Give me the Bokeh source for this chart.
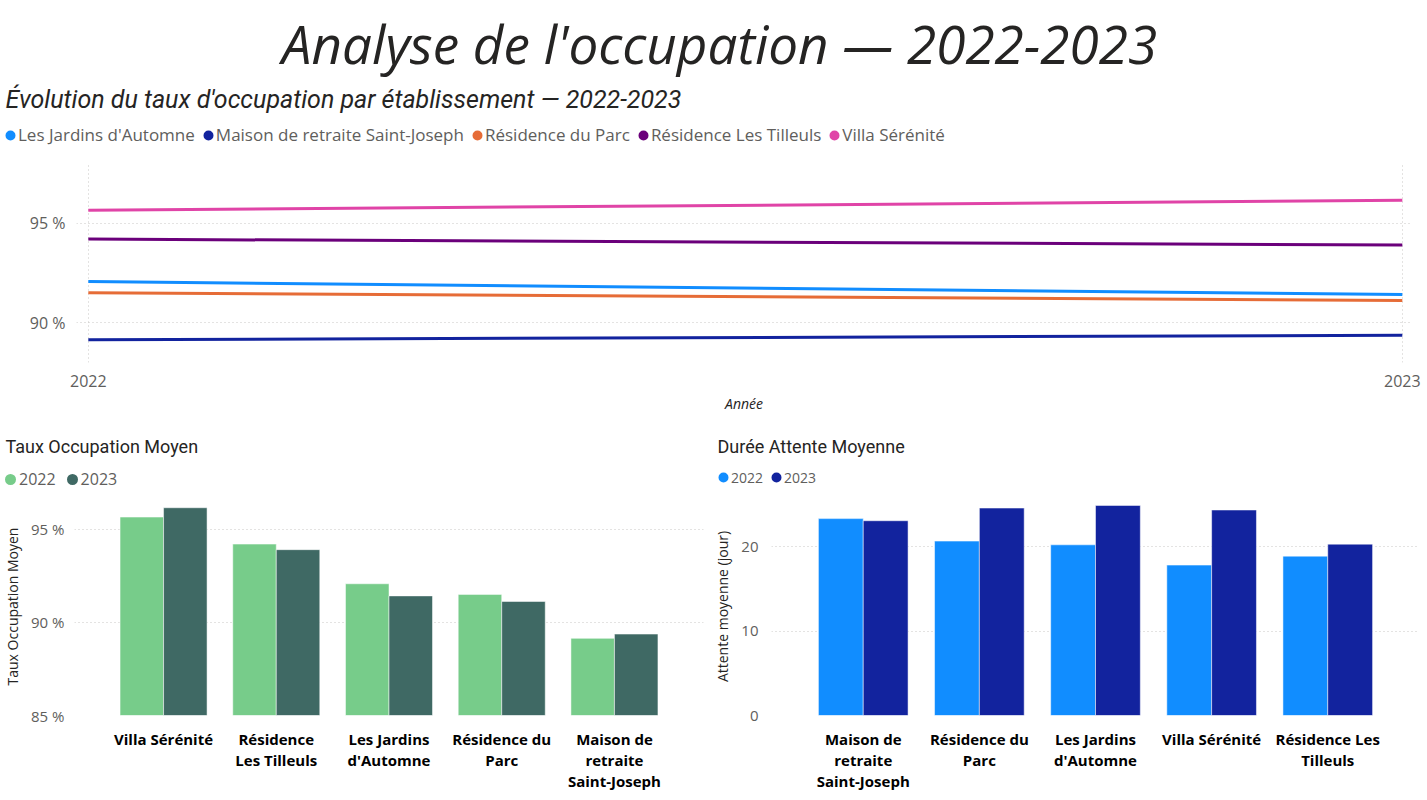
from bokeh.plotting import figure
from bokeh.models import (Range1d, Legend, LegendItem, Label, FixedTicker,
                          ColumnDataSource, PrintfTickFormatter)
from bokeh.layouts import column, row
from bokeh.transform import dodge
from bokeh.embed import file_html
from bokeh.resources import INLINE

# ---------------- data ----------------
establishments = ["Les Jardins d'Automne", "Maison de retraite Saint-Joseph",
                  "Résidence du Parc", "Résidence Les Tilleuls", "Villa Sérénité"]
est_colors = ["#118DFF", "#12239E", "#E66C37", "#6B007B", "#E044A7"]
years = [2022, 2023]
occ_2022 = [92.07, 89.14, 91.50, 94.20, 95.65]
occ_2023 = [91.42, 89.37, 91.12, 93.90, 96.15]
wait_2022 = [20.20, 23.30, 20.64, 18.86, 17.80]
wait_2023 = [24.86, 23.05, 24.55, 20.28, 24.32]

occ_order = ["Villa Sérénité", "Résidence Les Tilleuls", "Les Jardins d'Automne",
             "Résidence du Parc", "Maison de retraite Saint-Joseph"]
occ_tick_labels = ["Villa Sérénité", "Résidence\nLes Tilleuls", "Les Jardins\nd'Automne",
                   "Résidence du\nParc", "Maison de\nretraite\nSaint-Joseph"]
wait_order = ["Maison de retraite Saint-Joseph", "Résidence du Parc", "Les Jardins d'Automne",
              "Villa Sérénité", "Résidence Les Tilleuls"]
wait_tick_labels = ["Maison de\nretraite\nSaint-Joseph", "Résidence du\nParc", "Les Jardins\nd'Automne",
                    "Villa Sérénité", "Résidence Les\nTilleuls"]
occ_ticks = [85, 90, 95]
wait_ticks = [0, 10, 20]
year_labels = ["2022", "2023"]
occ_year_colors = ["#77CC8A", "#3F6964"]
wait_year_colors = ["#118DFF", "#12239E"]

GRID = "#C8C6C4"
TXT = "#252423"
SUB = "#605E5C"
NAN = float("nan")


def no_align(p):
    if "frame_align" in p.properties():
        p.frame_align = False


def style_axes(p):
    for ax in p.axis:
        ax.axis_line_color = None
        ax.major_tick_line_color = None
        ax.minor_tick_line_color = None
        ax.major_tick_out = 0
        ax.major_tick_in = 0
        ax.minor_tick_out = 0
        ax.minor_tick_in = 0
    p.outline_line_color = None
    p.background_fill_color = "white"
    p.border_fill_color = "white"
    no_align(p)


def header(width, height):
    h = figure(width=width, height=height, x_range=Range1d(0, width), y_range=Range1d(0, height),
               output_backend="svg", toolbar_location=None, title=None,
               x_axis_location=None, y_axis_location=None,
               min_border_left=0, min_border_right=0, min_border_top=0, min_border_bottom=0)
    h.grid.visible = False
    h.outline_line_color = None
    h.background_fill_color = "white"
    h.border_fill_color = "white"
    no_align(h)
    return h


def add_label(p, text, x, y, size, font="Open Sans", style="normal", color=TXT, align="left"):
    p.add_layout(Label(x=x, y=y, x_units="screen", y_units="screen", text=text,
                       text_font=font, text_font_style=style, text_font_size=size,
                       text_color=color, text_align=align, text_baseline="middle"))


def legend_items(h, labels, colors, glyph, dot):
    its = []
    for lab, c in zip(labels, colors):
        # legend marker: 0.4*glyph box + outline width gives the dot diameter
        d = h.scatter(x=[NAN], y=[NAN], marker="circle", size=10, fill_color=c,
                      line_color=c, line_width=dot - 0.4 * glyph)
        its.append(LegendItem(label=lab, renderers=[d]))
    return its


def make_legend(items, font_size, glyph, spacing, x, center, H):
    return Legend(items=items, orientation="horizontal", location=(x, H - (center + 10)),
                  label_text_font="Open Sans", label_text_font_size=font_size, label_text_color=SUB,
                  glyph_width=glyph, glyph_height=glyph, label_standoff=1, spacing=spacing,
                  padding=0, margin=0, border_line_color=None, background_fill_alpha=0,
                  label_height=20)


# ---------------- top header ----------------
H1 = 163
h1 = header(1427, H1)
add_label(h1, "Analyse de l'occupation — 2022-2023", 719, H1 - 43, "53px", style="italic", align="center")
add_label(h1, "Évolution du taux d'occupation par établissement — 2022-2023", 5, H1 - 99,
          "25px", font="Roboto", style="italic")
items = legend_items(h1, establishments, est_colors, 14, 10)
h1.add_layout(make_legend(items, "17px", 14, 6, 3, 136, H1), "center")

# ---------------- top line chart ----------------
p1 = figure(width=1427, height=415 - H1, x_range=Range1d(2021.991, 2023.007), y_range=Range1d(88, 98),
            output_backend="svg", toolbar_location=None, title=None,
            min_border_left=76, min_border_right=16, min_border_bottom=50, min_border_top=0)
style_axes(p1)
p1.xaxis.ticker = FixedTicker(ticks=years)
p1.yaxis.ticker = FixedTicker(ticks=[90, 95])
p1.yaxis.formatter = PrintfTickFormatter(format="%d %%")
for ax in p1.axis:
    ax.major_label_text_font = "Open Sans"
    ax.major_label_text_font_size = "16px"
    ax.major_label_text_color = SUB
p1.yaxis.major_label_standoff = 11
p1.xaxis.major_label_standoff = 12
p1.xaxis.axis_label = "Année"
p1.xaxis.axis_label_text_font = "Open Sans"
p1.xaxis.axis_label_text_font_style = "italic"
p1.xaxis.axis_label_text_font_size = "14px"
p1.xaxis.axis_label_text_color = TXT
p1.xaxis.axis_label_standoff = 4
for g in (p1.xgrid, p1.ygrid):
    g.grid_line_color = GRID
    g.grid_line_dash = "1 3"
    g.grid_line_width = 1

for i, name in enumerate(establishments):
    src = ColumnDataSource(dict(x=years, y=[occ_2022[i], occ_2023[i]]))
    p1.line("x", "y", source=src, line_color=est_colors[i], line_width=3)


def bar_header(width, title, colors, legend_font, title_x, glyph, dot, spacing, leg_x, leg_center):
    H = 82
    h = header(width, H)
    add_label(h, title, title_x, H - 31, "18px", font="Roboto")
    its = legend_items(h, year_labels, colors, glyph, dot)
    h.add_layout(make_legend(its, legend_font, glyph, spacing, leg_x, leg_center, H), "center")
    return h


def bar_chart(width, order, tick_labels, v22, v23, colors, ymin, ymax, ticks, fmt,
              ylabel, min_left, min_right, y_standoff):
    idx = list(range(len(order)))
    src = ColumnDataSource(dict(
        x=idx,
        y22=[v22[establishments.index(n)] for n in order],
        y23=[v23[establishments.index(n)] for n in order],
        base=[ymin] * len(order)))
    p = figure(width=width, height=385 - 82, x_range=Range1d(-0.79, 4.79), y_range=Range1d(ymin, ymax),
               output_backend="svg", toolbar_location=None, title=None,
               min_border_left=min_left, min_border_right=min_right, min_border_bottom=85,
               min_border_top=0)
    style_axes(p)
    bw = 0.386
    p.vbar(x=dodge("x", -bw / 2, range=p.x_range), top="y22", bottom="base", width=bw,
           source=src, fill_color=colors[0], line_color="white", line_alpha=0.5)
    p.vbar(x=dodge("x", bw / 2, range=p.x_range), top="y23", bottom="base", width=bw,
           source=src, fill_color=colors[1], line_color="white", line_alpha=0.5)
    p.xaxis.ticker = FixedTicker(ticks=idx)
    p.xaxis.major_label_overrides = {i: lab for i, lab in zip(idx, tick_labels)}
    p.xaxis.major_label_text_font = "Open Sans"
    p.xaxis.major_label_text_font_style = "bold"
    p.xaxis.major_label_text_font_size = "15px"
    p.xaxis.major_label_text_color = "#000000"
    p.xaxis.major_label_text_line_height = 1.05
    p.xaxis.major_label_standoff = 13
    p.yaxis.ticker = FixedTicker(ticks=ticks)
    p.yaxis.formatter = PrintfTickFormatter(format=fmt)
    p.yaxis.major_label_text_font = "Open Sans"
    p.yaxis.major_label_text_font_size = "15px"
    p.yaxis.major_label_text_color = SUB
    p.yaxis.major_label_standoff = y_standoff
    p.yaxis.axis_label = ylabel
    p.yaxis.axis_label_text_font = "Open Sans"
    p.yaxis.axis_label_text_font_style = "normal"
    p.yaxis.axis_label_text_font_size = "14px"
    p.yaxis.axis_label_text_color = TXT
    p.yaxis.axis_label_standoff = 6
    p.xgrid.grid_line_color = None
    p.ygrid.grid_line_color = GRID
    p.ygrid.grid_line_dash = "1 3"
    return p


h2 = bar_header(710, "Taux Occupation Moyen", occ_year_colors, "16px", 5, 16, 11, 8, 2, 480 - 415)
p2 = bar_chart(710, occ_order, occ_tick_labels, occ_2022, occ_2023, occ_year_colors, 85, 96.7,
               occ_ticks, "%d %%", "Taux Occupation Moyen", 72, 7, 10)
h3 = bar_header(717, "Durée Attente Moyenne", wait_year_colors, "14px", 7, 14, 10, 6, 6, 477 - 415)
p3 = bar_chart(717, wait_order, wait_tick_labels, wait_2022, wait_2023, wait_year_colors, 0, 25.8,
               wait_ticks, "%d", "Attente moyenne (jour)", 61, 8, 13)

layout = column(row(h1), p1,
                row(column(row(h2), p2, spacing=0), column(row(h3), p3, spacing=0), spacing=0),
                spacing=0)
open("out.html", "w").write(file_html(layout, INLINE))
